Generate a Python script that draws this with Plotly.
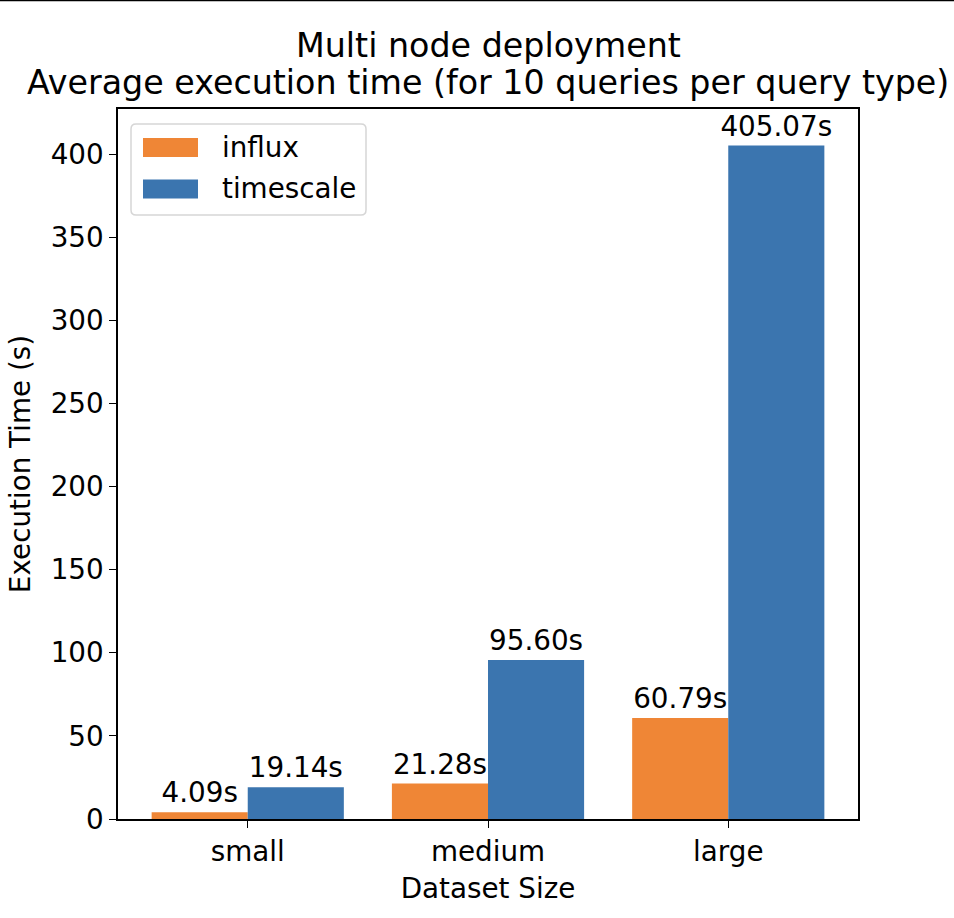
import plotly.graph_objects as go

categories = ["small", "medium", "large"]
influx = [4.09, 21.28, 60.79]
timescale = [19.14, 95.60, 405.07]
series_names = ["influx", "timescale"]
y_ticks = [0, 50, 100, 150, 200, 250, 300, 350, 400]
title_lines = ["Multi node deployment", "Average execution time (for 10 queries per query type)"]

FONT = "DejaVu Sans"
FS = 27.8
colors = ["#ef8636", "#3b75af"]

# plot-area geometry in pixels (for converting decorations to paper coords)
L, R, T, B = 118, 858, 109, 819
W, H = R - L, B - T


def px(x):
    return (x - L) / W


def py(y):
    return (B - y) / H


fig = go.Figure()
for name, vals, col in zip(series_names, [influx, timescale], colors):
    fig.add_trace(go.Bar(
        x=categories, y=vals, name=name, marker=dict(color=col, line=dict(width=0)),
        text=[f"{v:.2f}s" for v in vals], textposition="outside", cliponaxis=False,
        constraintext="none", showlegend=False,
        textfont=dict(family=FONT, size=FS, color="black"),
    ))

fig.update_layout(
    width=954, height=918,
    paper_bgcolor="white", plot_bgcolor="white",
    margin=dict(l=L, r=954 - R, t=T, b=918 - B),
    barmode="group", bargap=0.2, bargroupgap=0,
    font=dict(family=FONT, size=FS, color="black"),
    xaxis=dict(range=[-0.54, 2.54], showline=True, linecolor="black", linewidth=1.5, mirror=True,
               ticks="outside", ticklen=7, tickcolor="black", showgrid=False,
               title=dict(text="Dataset Size", standoff=11, font=dict(size=FS))),
    yaxis=dict(range=[0, 427.07], tickvals=y_ticks, showline=True, linecolor="black", linewidth=1.5,
               mirror=True, ticks="outside", ticklen=7, tickcolor="black", showgrid=False, zeroline=False,
               title=dict(text="Execution Time (s)", standoff=12, font=dict(size=FS))),
    showlegend=False,
)

# title as two centred lines
for line, yc in zip(title_lines, [46, 82]):
    fig.add_annotation(text=line, xref="paper", yref="paper", x=0.5, y=py(yc), xanchor="center",
                       yanchor="middle", showarrow=False, font=dict(family=FONT, size=33.3, color="black"))

# legend box (rounded)
x0, x1, y0, y1, r = 131, 366, 124, 215, 5
path = (f"M{px(x0 + r)},{py(y0)} L{px(x1 - r)},{py(y0)} Q{px(x1)},{py(y0)} {px(x1)},{py(y0 + r)} "
        f"L{px(x1)},{py(y1 - r)} Q{px(x1)},{py(y1)} {px(x1 - r)},{py(y1)} "
        f"L{px(x0 + r)},{py(y1)} Q{px(x0)},{py(y1)} {px(x0)},{py(y1 - r)} "
        f"L{px(x0)},{py(y0 + r)} Q{px(x0)},{py(y0)} {px(x0 + r)},{py(y0)} Z")
fig.add_shape(type="path", path=path, xref="paper", yref="paper",
              fillcolor="rgba(255,255,255,0.8)", line=dict(color="#d6d6d6", width=1.5))
for i, (name, col) in enumerate(zip(series_names, colors)):
    top = 138 + i * 41.5
    fig.add_shape(type="rect", xref="paper", yref="paper", x0=px(143), x1=px(198),
                  y0=py(top), y1=py(top + 19), fillcolor=col, line=dict(width=0))
    fig.add_annotation(text=name, xref="paper", yref="paper", x=px(220), y=py(top + 9.5),
                       xanchor="left", yanchor="middle", showarrow=False,
                       font=dict(family=FONT, size=FS, color="black"))

fig.add_shape(type="line", xref="paper", yref="paper", x0=px(0), x1=px(954),
              y0=py(0.5), y1=py(0.5), line=dict(color="black", width=1.5))
fig.write_html("out.html", config={"displayModeBar": False},
               post_script="document.body.style.margin='0';document.body.style.overflow='hidden';")
